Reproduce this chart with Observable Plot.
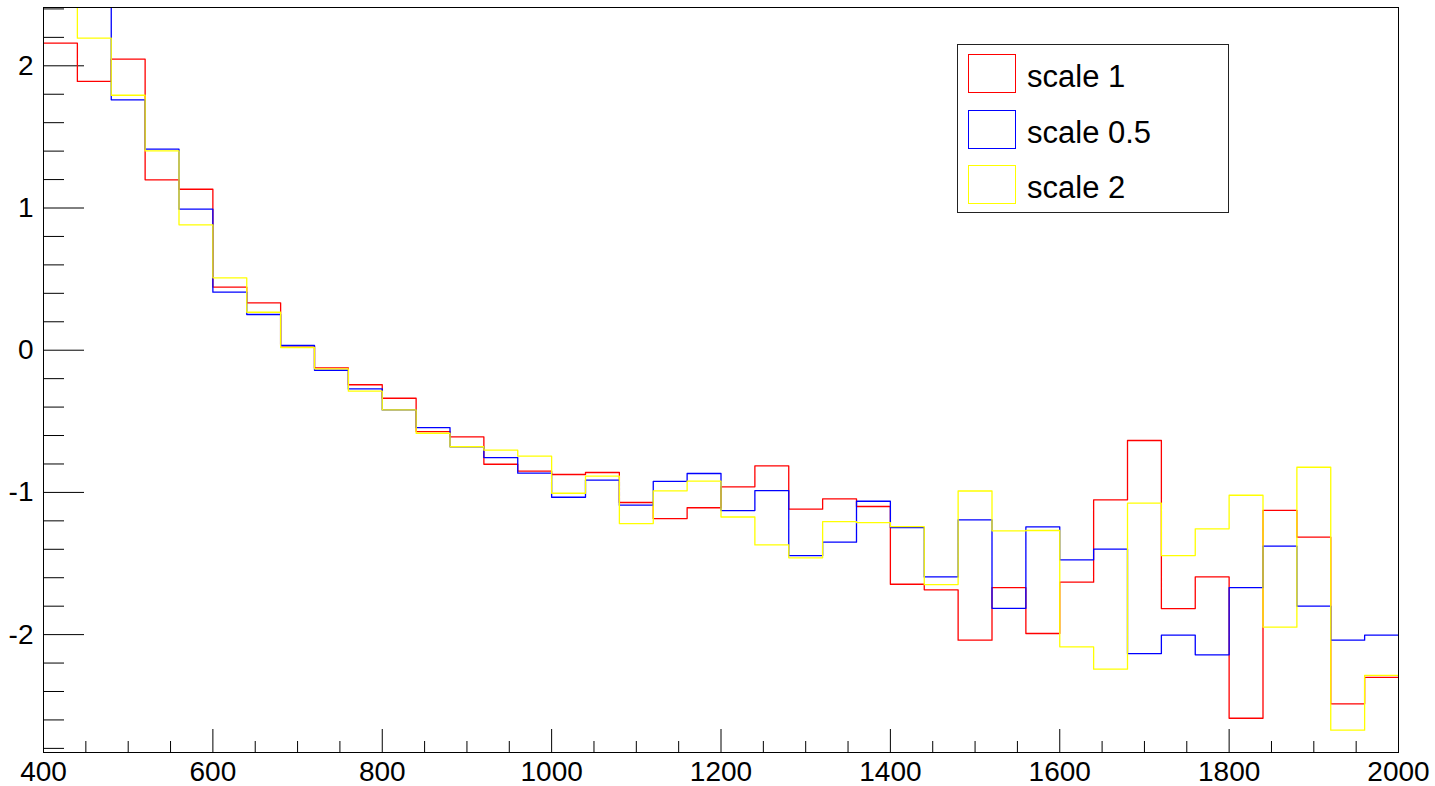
<!DOCTYPE html>
<html><head><meta charset="utf-8">
<script src="https://cdn.jsdelivr.net/npm/d3@7"></script>
<script src="https://cdn.jsdelivr.net/npm/@observablehq/plot@0.6"></script>
<style>
body{margin:0;background:#fff;}
#wrap{position:relative;width:1435px;height:786px;font-family:"Liberation Sans",Arial,Helvetica,sans-serif;}
#legend{position:absolute;left:957px;top:44px;width:270px;height:167px;border:1px solid #222;background:#fff;}
.row{position:absolute;left:0;width:100%;height:39px;}
.sw{position:absolute;left:10px;top:0;width:46px;height:37px;border:1px solid;}
.lab{position:absolute;left:69px;top:0;line-height:39px;padding-top:3px;font-size:31px;color:#000;white-space:nowrap;}
</style></head><body><div id="wrap"></div>
<script>
const binLow = [400,440,480,520,560,600,640,680,720,760,800,840,880,920,960,1000,1040,1080,1120,1160,1200,1240,1280,1320,1360,1400,1440,1480,1520,1560,1600,1640,1680,1720,1760,1800,1840,1880,1920,1960];
const binWidth = 40;
const scale1 = [2.159,1.890,2.047,1.198,1.132,0.443,0.333,0.030,-0.124,-0.243,-0.338,-0.572,-0.609,-0.802,-0.851,-0.874,-0.860,-1.071,-1.184,-1.108,-0.961,-0.813,-1.118,-1.045,-1.099,-1.646,-1.685,-2.039,-1.669,-1.992,-1.631,-1.052,-0.635,-1.817,-1.594,-2.588,-1.127,-1.315,-2.487,-2.300];
const scale05 = [2.70,2.60,1.761,1.414,0.992,0.408,0.251,0.033,-0.141,-0.272,-0.420,-0.544,-0.679,-0.755,-0.865,-1.034,-0.914,-1.090,-0.923,-0.867,-1.128,-0.987,-1.444,-1.350,-1.062,-1.247,-1.594,-1.193,-1.815,-1.242,-1.474,-1.399,-2.133,-2.004,-2.142,-1.669,-1.378,-1.800,-2.039,-2.004];
const scale2 = [2.60,2.194,1.793,1.402,0.882,0.509,0.267,0.019,-0.131,-0.288,-0.420,-0.584,-0.679,-0.703,-0.745,-1.006,-0.886,-1.219,-0.989,-0.921,-1.173,-1.369,-1.460,-1.205,-1.212,-1.240,-1.648,-0.990,-1.270,-1.268,-2.086,-2.243,-1.076,-1.444,-1.256,-1.020,-1.948,-0.823,-2.672,-2.286];
const seriesNames = ["scale 1","scale 0.5","scale 2"];
const seriesColors = ["#ff0000","#0000ff","#ffff00"];
const seriesValues = [scale1, scale05, scale2];
const xMajorTicks = [400,600,800,1000,1200,1400,1600,1800,2000];
const xMinorTicks = [450,500,550,650,700,750,850,900,950,1050,1100,1150,1250,1300,1350,1450,1500,1550,1650,1700,1750,1850,1900,1950];
const yMajorTicks = [-2,-1,0,1,2];
const yMinorTicks = [-2.8,-2.6,-2.4,-2.2,-1.8,-1.6,-1.4,-1.2,-0.8,-0.6,-0.4,-0.2,0.2,0.4,0.6,0.8,1.2,1.4,1.6,1.8,2.2,2.4];

const W = 1435, H = 786;
const mL = 43, mR = 37, mT = 7, mB = 34;
const innerW = W - mL - mR, innerH = H - mT - mB;

function steps(values) {
  const pts = binLow.map((x, i) => ({x, y: values[i]}));
  pts.push({x: binLow[binLow.length - 1] + binWidth, y: values[values.length - 1]});
  return pts;
}

const chart = Plot.plot({
  width: W, height: H,
  marginLeft: mL, marginRight: mR, marginTop: mT, marginBottom: mB,
  style: {fontFamily: '"Liberation Sans", Arial, Helvetica, sans-serif', fontSize: "28px", background: "#fff", color: "#000"},
  x: {domain: [400, 2000]},
  y: {domain: [-2.829, 2.41]},
  marks: [
    Plot.tickY(yMajorTicks, {y: d => d, insetRight: innerW - 41, stroke: "#000"}),
    Plot.tickY(yMinorTicks, {y: d => d, insetRight: innerW - 21, stroke: "#000"}),
    Plot.tickX(xMajorTicks, {x: d => d, insetTop: innerH - 23, stroke: "#000"}),
    Plot.tickX(xMinorTicks, {x: d => d, insetTop: innerH - 11, stroke: "#000"}),
    ...seriesValues.map((vals, k) => Plot.line(steps(vals), {x: "x", y: "y", stroke: seriesColors[k], strokeWidth: 1.3, curve: "step-after", clip: true})),
    Plot.axisY(yMajorTicks, {tickSize: 0, tickPadding: 10, tickFormat: d => String(d), label: null}),
    Plot.axisX(xMajorTicks, {tickSize: 0, tickPadding: 9, tickFormat: d => String(d), label: null}),
    Plot.frame({stroke: "#000"})
  ]
});

const wrap = document.getElementById("wrap");
wrap.appendChild(chart);

const legend = document.createElement("div");
legend.id = "legend";
seriesNames.forEach((name, k) => {
  const row = document.createElement("div");
  row.className = "row";
  row.style.top = Math.round(9 + 55.7 * k) + "px";
  const sw = document.createElement("div");
  sw.className = "sw";
  sw.style.borderColor = seriesColors[k];
  const lab = document.createElement("div");
  lab.className = "lab";
  lab.textContent = name;
  row.appendChild(sw); row.appendChild(lab);
  legend.appendChild(row);
});
wrap.appendChild(legend);
</script>
</body></html>
